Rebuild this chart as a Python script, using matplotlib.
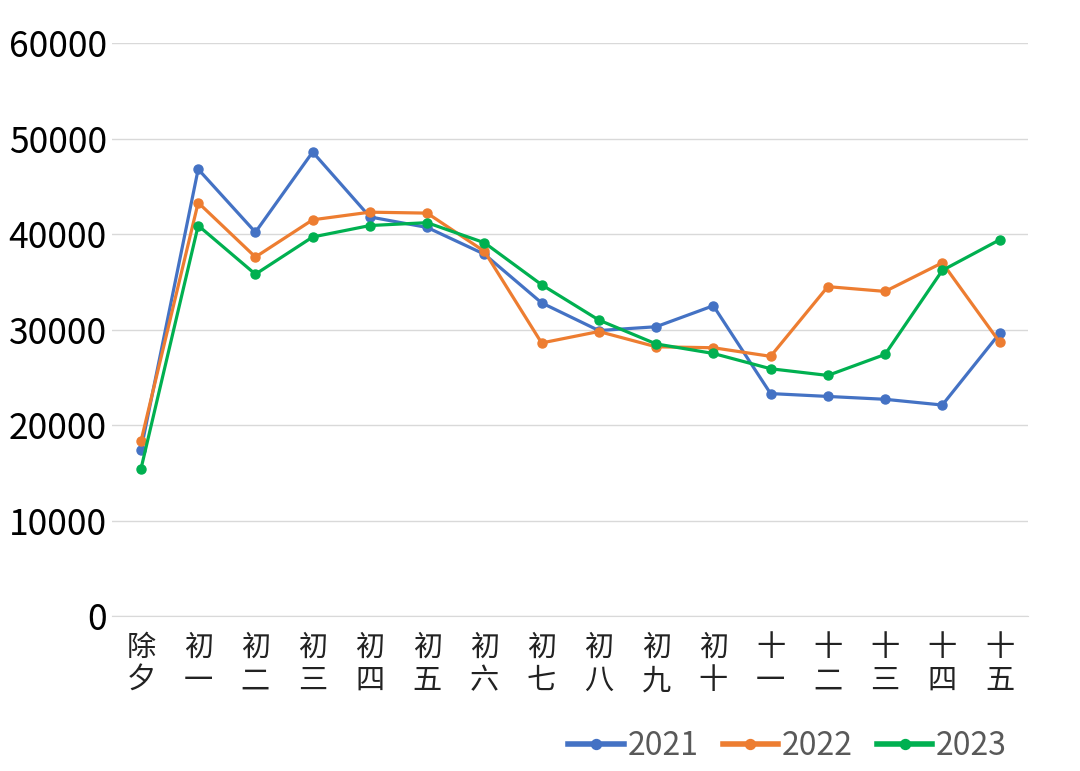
import matplotlib.pyplot as plt

plt.rcParams['font.family'] = ['Noto Sans CJK SC', 'DejaVu Sans']

# categories (lunar new year days) and values per year
days = ['除夕', '初一', '初二', '初三', '初四', '初五', '初六', '初七',
        '初八', '初九', '初十', '十一', '十二', '十三', '十四', '十五']
y2021 = [17400, 46800, 40200, 48600, 41800, 40700, 37900, 32800,
         29900, 30300, 32500, 23300, 23000, 22700, 22100, 29600]
y2022 = [18300, 43300, 37600, 41500, 42300, 42200, 38200, 28600,
         29800, 28200, 28100, 27200, 34500, 34000, 37000, 28700]
y2023 = [15400, 40900, 35800, 39700, 40900, 41200, 39100, 34700,
         31000, 28500, 27500, 25900, 25200, 27400, 36200, 39400]
yticks = [0, 10000, 20000, 30000, 40000, 50000, 60000]

series = [('2021', y2021, '#4472C4'),
          ('2022', y2022, '#ED7D31'),
          ('2023', y2023, '#00B050')]

fig = plt.figure(figsize=(10.8, 7.71), dpi=100)
ax = fig.add_axes([0.104, 0.201, 0.848, 0.743])

x = list(range(len(days)))
for name, vals, color in series:
    ax.plot(x, vals, color=color, linewidth=2.3, marker='o', markersize=6.5,
            label=name, solid_joinstyle='round')

ax.set_xlim(-0.5, len(days) - 0.5)
ax.set_ylim(0, 60000)
ax.set_yticks(yticks)
ax.set_yticklabels([str(v) for v in yticks], fontsize=25.5, color='black')
ax.set_xticks(x)
ax.set_xticklabels(['\n'.join(d) for d in days], fontsize=21,
                   color='#222222', linespacing=1.15)

ax.grid(axis='y', color='#d9d9d9', linewidth=1)
ax.set_axisbelow(True)
for side in ['top', 'right', 'left']:
    ax.spines[side].set_visible(False)
ax.spines['bottom'].set_color('#d9d9d9')
ax.tick_params(axis='both', length=0)
ax.tick_params(axis='x', pad=12)
ax.tick_params(axis='y', pad=4)

leg = fig.legend(loc='center right', bbox_to_anchor=(0.932, 0.032), ncol=3,
                 frameon=False, fontsize=23, handlelength=1.75,
                 handletextpad=0.1, columnspacing=0.75, markerscale=1.1,
                 borderpad=0, borderaxespad=0)
for t in leg.get_texts():
    t.set_color('#595959')
for h in leg.get_lines():
    h.set_linewidth(4)

fig.savefig('out.png', dpi=100, facecolor='white')
